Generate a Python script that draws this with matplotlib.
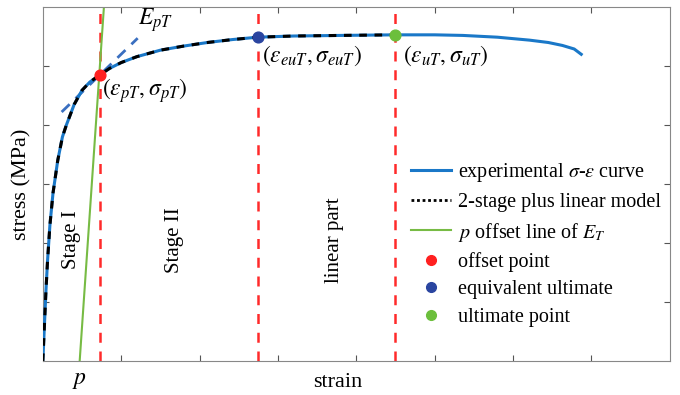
import numpy as np
import matplotlib.pyplot as plt
from matplotlib.lines import Line2D

plt.rcParams['font.family'] = ['Liberation Serif', 'DejaVu Serif']
plt.rcParams['mathtext.fontset'] = 'stix'

# experimental stress-strain curve (arbitrary units)
strain = [0, 0.02, 0.04, 0.06, 0.09, 0.13, 0.19, 0.25, 0.30, 0.40, 0.50, 0.60,
          0.727, 0.85, 1.0, 1.2, 1.5, 1.8, 2.1, 2.42, 2.74, 3.2, 3.8, 4.49,
          5.0, 5.36, 5.8, 6.21, 6.45, 6.63, 6.78, 6.87]
stress = [0, 0.6, 1.2, 1.7, 2.3, 2.85, 3.4, 3.8, 4.0, 4.35, 4.59, 4.73,
          4.85, 4.96, 5.06, 5.16, 5.27, 5.34, 5.40, 5.45, 5.49, 5.51, 5.52, 5.53,
          5.53, 5.52, 5.49, 5.44, 5.40, 5.35, 5.29, 5.20]

# characteristic points
eps_p, sig_p = 0.727, 4.85
eps_eu, sig_eu = 2.74, 5.49
eps_u, sig_u = 4.49, 5.53
p = 0.47          # offset
E_T = 19.4        # slope of offset line
E_pT = 1.29       # tangent slope at offset point

fig = plt.figure(figsize=(6.8, 3.95), dpi=100)
ax = fig.add_axes([0.063, 0.086, 0.922, 0.896])

ax.plot(strain, stress, color='#1a78c8', lw=2.2, zorder=3)

# model follows the curve up to the ultimate point
n_model = strain.index(eps_u) + 1
ax.plot(strain[:n_model], stress[:n_model], color='black', lw=2.2,
        ls=(0, (2.5, 2.5)), zorder=4)

# offset line
ys = np.array([0, 6.0])
ax.plot(p + ys / E_T, ys, color='#77bb44', lw=1.5, zorder=2)

# tangent E_pT
xt = np.array([0.24, 1.21])
ax.plot(xt, sig_p + E_pT * (xt - eps_p), color='#3a6fc0', lw=2,
        ls=(0, (4, 3)), zorder=2)

for xv in [eps_p, eps_eu, eps_u]:
    ax.axvline(xv, color='#ff2a2a', lw=1.8, ls=(0, (4, 3.5)), zorder=1)

ax.scatter([eps_p], [sig_p], s=60, color='#ff2020', zorder=6)
ax.scatter([eps_eu], [sig_eu], s=60, color='#2a45a0', zorder=6)
ax.scatter([eps_u], [sig_u], s=60, color='#6cbf3c', zorder=6)

ax.text(1.22, 5.7, r'$E_{pT}$', fontsize=17)
ax.text(0.75, 4.5, r'$\left(\varepsilon_{pT},\sigma_{pT}\right)$', fontsize=17)
ax.text(2.8, 5.07, r'$\left(\varepsilon_{euT},\sigma_{euT}\right)$', fontsize=17)
ax.text(4.6, 5.07, r'$\left(\varepsilon_{uT},\sigma_{uT}\right)$', fontsize=17)

ax.text(0.37, 2.05, 'Stage I', rotation=90, fontsize=15, ha='center', va='center')
ax.text(1.68, 2.05, 'Stage II', rotation=90, fontsize=15, ha='center', va='center')
ax.text(3.72, 2.05, 'linear part', rotation=90, fontsize=15, ha='center', va='center')

ax.set_xlim(0, 8)
ax.set_ylim(0, 6)
ax.set_xticks(range(1, 8))
ax.set_yticks(range(1, 6))
ax.tick_params(direction='in', length=4, top=True, right=True,
               labelbottom=False, labelleft=False, color='#555555')
for s in ax.spines.values():
    s.set_color('#888888')

ax.set_xlabel('strain', fontsize=16)
ax.xaxis.set_label_coords(0.47, -0.035, transform=ax.transAxes)
ax.set_ylabel('stress (MPa)', fontsize=16, labelpad=8)
ax.text(p, -0.15, r'$p$', fontsize=17, ha='center', va='top')

handles = [
    Line2D([], [], color='#1a78c8', lw=2.2),
    Line2D([], [], color='black', lw=2, ls=(0, (1, 1))),
    Line2D([], [], color='#77bb44', lw=1.5),
    Line2D([], [], marker='o', ls='none', color='#ff2020', ms=7),
    Line2D([], [], marker='o', ls='none', color='#2a45a0', ms=7),
    Line2D([], [], marker='o', ls='none', color='#6cbf3c', ms=7),
]
labels = [r'experimental $\sigma$-$\varepsilon$ curve', '2-stage plus linear model',
          r'$p$ offset line of $E_T$', 'offset point', 'equivalent ultimate',
          'ultimate point']
ax.legend(handles, labels, loc='lower right', frameon=False, fontsize=14.5,
          handlelength=2.0, handletextpad=0.35, labelspacing=0.42,
          bbox_to_anchor=(1.015, 0.045))

fig.savefig('out.png', dpi=100)
